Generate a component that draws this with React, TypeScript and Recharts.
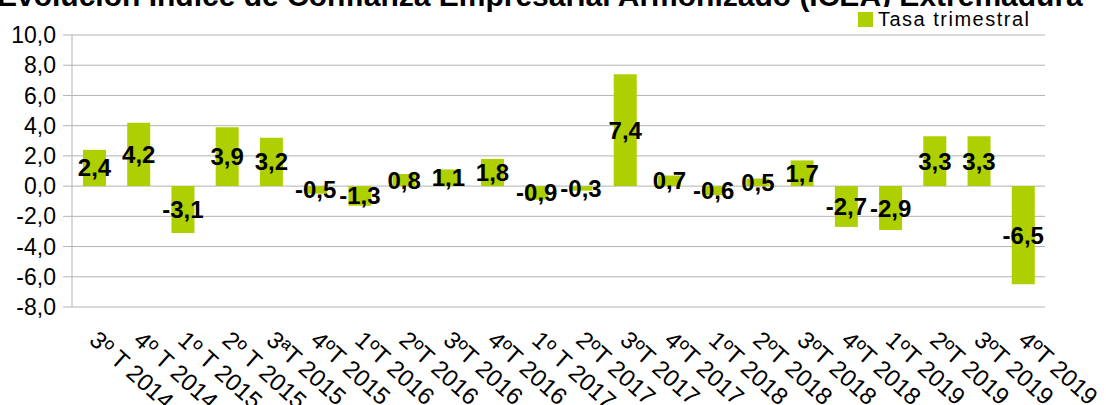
import React from "react";
import {
  BarChart,
  Bar,
  XAxis,
  YAxis,
  CartesianGrid,
  LabelList,
} from "recharts";

const trimestres = [
  "3º T 2014", "4º T 2014", "1º T 2015", "2º T 2015", "3ªT 2015", "4ºT 2015",
  "1ºT 2016", "2ºT 2016", "3ºT 2016", "4ºT 2016", "1º T 2017", "2ºT 2017",
  "3ºT 2017", "4ºT 2017", "1ºT 2018", "2ºT 2018", "3ºT 2018", "4ºT 2018",
  "1ºT 2019", "2ºT 2019", "3ºT 2019", "4ºT 2019",
];

const tasaTrimestral = [
  2.4, 4.2, -3.1, 3.9, 3.2, -0.5, -1.3, 0.8, 1.1, 1.8, -0.9, -0.3,
  7.4, 0.7, -0.6, 0.5, 1.7, -2.7, -2.9, 3.3, 3.3, -6.5,
];

const yTicks = [-8, -6, -4, -2, 0, 2, 4, 6, 8, 10];

const data = trimestres.map((t, i) => ({ idx: i + 0.5, trimestre: t, tasa: tasaTrimestral[i] }));
const boundaryTicks = trimestres.map((_, i) => i).concat(trimestres.length);

const W = 1106;
const H = 405;
const TOP = 35;
const X_AXIS_H = 98;
const PLOT_H = H - TOP - X_AXIS_H;
const Y_MIN = -8;
const Y_MAX = 10;
const ZERO_Y = TOP + (Y_MAX / (Y_MAX - Y_MIN)) * PLOT_H;

const GRID = "#b3b3b3";
const GREEN = "#aecf00";
const FONT = "'Liberation Sans', Arial, sans-serif";

// es-ES number format: one decimal with comma
const fmt = (v: number) => v.toFixed(1).replace(".", ",");

// short marks hanging under the zero line at category boundaries
function BoundaryTick(props: any) {
  const { x } = props;
  return (
    <line x1={x} x2={x} y1={ZERO_Y} y2={ZERO_Y + 9} stroke={GRID} strokeWidth={1} />
  );
}

function CategoryTick(props: any) {
  const { x, y, payload } = props;
  return (
    <text
      transform={`translate(${x - 6},${y + 27}) rotate(42)`}
      textAnchor="start"
      fontSize={24}
      fontFamily={FONT}
      fill="#000"
    >
      {payload.value}
    </text>
  );
}

export default function App() {
  return (
    <div style={{ position: "absolute", left: 0, top: 0, width: W, height: H, background: "#fff", overflow: "hidden" }}>
      <BarChart
        width={W}
        height={H}
        data={data}
        margin={{ top: TOP, right: 61, left: 0, bottom: 0 }}
        barSize={23}
        style={{ position: "absolute", left: 0, top: 0 }}
      >
        <CartesianGrid horizontal vertical={false} stroke={GRID} />
        <XAxis
          xAxisId="limites"
          type="number"
          dataKey="idx"
          domain={[0, trimestres.length]}
          ticks={boundaryTicks}
          allowDataOverflow
          height={0}
          axisLine={{ stroke: GRID }}
          tickLine={{ stroke: GRID }}
          tickSize={12}
          tick={<BoundaryTick />}
        />
        <XAxis
          dataKey="trimestre"
          interval={0}
          height={X_AXIS_H}
          axisLine={false}
          tickLine={false}
          tick={<CategoryTick />}
        />
        <YAxis
          domain={[Y_MIN, Y_MAX]}
          ticks={yTicks}
          interval={0}
          width={72}
          tickFormatter={fmt}
          axisLine={{ stroke: GRID }}
          tickLine={{ stroke: GRID }}
          tickSize={9}
          tickMargin={7}
          tick={{ fontSize: 23, fontFamily: FONT, fill: "#000" }}
        />
        <Bar dataKey="tasa" fill={GREEN} isAnimationActive={false}>
          <LabelList
            dataKey="tasa"
            position="center"
            formatter={(v: any) => fmt(Number(v))}
            style={{ fontSize: 24, fontWeight: "bold", fontFamily: FONT, fill: "#000" }}
          />
        </Bar>
      </BarChart>
      <svg width={W} height={30} style={{ position: "absolute", left: 0, top: 0 }}>
        <text x={-3} y={6} fontSize={30} fontWeight="bold" fontFamily={FONT} fill="#000">
          Evolución Índice de Confianza Empresarial Armonizado (ICEA) Extremadura
        </text>
      </svg>
      <div
        style={{
          position: "absolute",
          left: 858,
          top: 7,
          display: "flex",
          alignItems: "center",
          fontFamily: FONT,
          fontSize: 20,
          lineHeight: "24px",
          background: "#fff",
        }}
      >
        <span style={{ display: "inline-block", width: 15, height: 15, background: GREEN, marginRight: 5 }} />
        <span style={{ letterSpacing: 1.5 }}>Tasa trimestral</span>
      </div>
    </div>
  );
}
